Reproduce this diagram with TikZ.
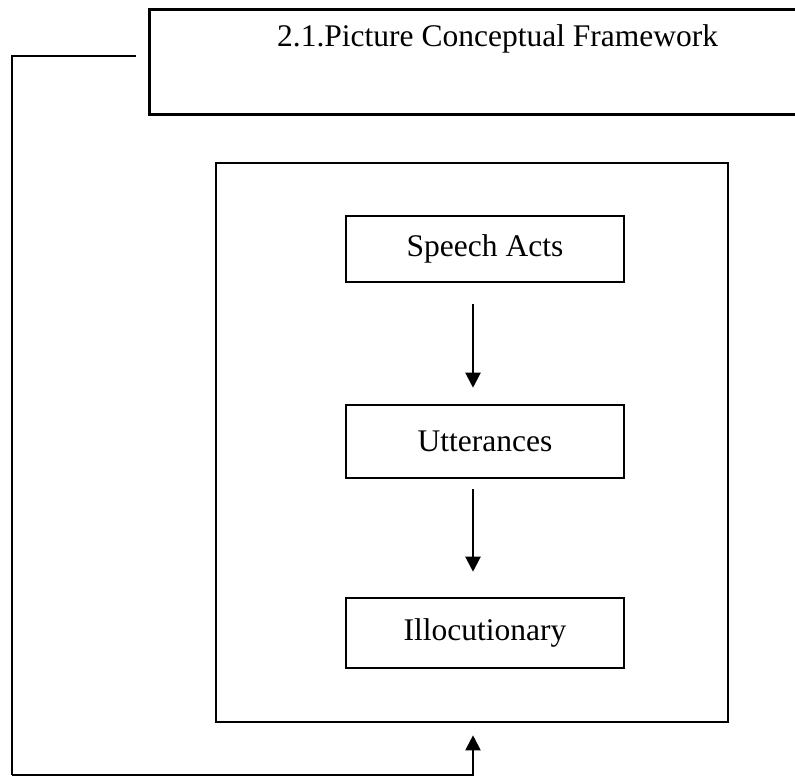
\documentclass[tikz,border=0pt]{standalone}
\usepackage{fontspec}
\setmainfont{Liberation Serif}
\usetikzlibrary{arrows.meta,calc}
\begin{document}
\begin{tikzpicture}[x=1pt,y=1pt,
  every node/.style={font=\fontsize{31.5}{38}\selectfont},
  boxstyle/.style={draw,line width=2.6pt,rectangle,inner sep=0pt},
  smallbox/.style={boxstyle,minimum width=278pt},
  arr/.style={line width=2.2pt,-{Triangle[width=15pt,length=15pt]}},
  fb/.style={line width=2pt}]
\useasboundingbox (0,0) rectangle (795,-776);
\clip (0,0) rectangle (795,-776);
% title box (extends past right edge)
\node[boxstyle,minimum width=680pt,minimum height=105pt,anchor=north west] (title) at (148,-8) {};
\node[anchor=base west,inner sep=0pt] (titletext) at (277,-47) {2.1.Picture Conceptual Framework};
% inner frame
\node[boxstyle,minimum width=512pt,minimum height=559pt] (inner) at (472,-442.5) {};
% steps
\node[smallbox,minimum height=66pt] (speech) at (485,-249) {Speech Acts};
\node[smallbox,minimum height=73pt] (utt) at (485,-441.5) {Utterances};
\node[smallbox,minimum height=70pt] (illo) at (485,-633) {Illocutionary};
\coordinate (ax) at (473,0);
\draw[arr] ($(speech.south -| ax)+(0,-21)$) -- ($(utt.north -| ax)+(0,16)$);
\draw[arr] ($(utt.south -| ax)+(0,-10)$) -- ($(illo.north -| ax)+(0,25)$);
% feedback loop
\coordinate (fbstart) at ($(title.west)+(-12,5.5)$);
\coordinate (fbcorner) at (12,-775);
\draw[fb] (fbstart) -| (fbcorner);
\draw[fb,arr,line width=2pt] (fbcorner) -| ($(inner.south -| ax)+(0,-12)$);
\end{tikzpicture}
\end{document}
